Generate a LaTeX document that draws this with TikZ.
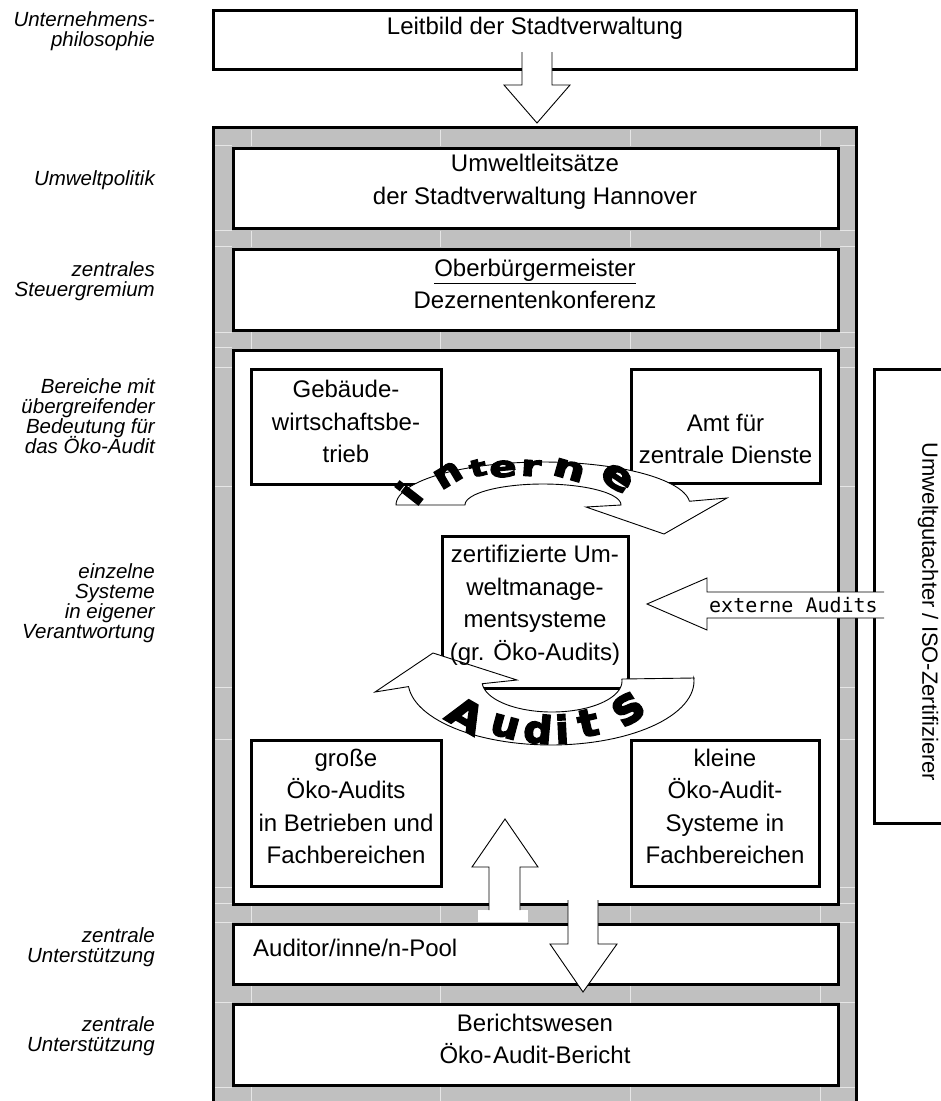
\documentclass[tikz,border=0pt]{standalone}
\usepackage{fontspec}
\setmainfont{Liberation Sans}
\newfontfamily\monofont{DejaVu Sans Mono}
\newfontfamily\heavyfont[FakeBold=4]{DejaVu Sans}
\definecolor{frameg}{HTML}{C0C0C0}
\newcommand\lblfont{\itshape\fontsize{20.5}{20}\selectfont\lineskiplimit=-50pt\lineskip=0pt}
\newcommand\boxfont{\fontsize{24}{32.5}\selectfont\lineskiplimit=-50pt\lineskip=0pt}
\begin{document}
\begin{tikzpicture}[x=1pt,y=-1pt,
  box/.style={draw, line width=3pt, fill=white, inner sep=0pt, rectangle},
  btxt/.style={font=\boxfont, align=center, inner sep=0pt},
  lbl/.style={font=\lblfont, align=right, anchor=east, inner sep=0pt},
  barrow/.style={draw, line width=0.9pt, fill=white, line join=miter},
  faint/.style={draw=white!60!frameg, line width=0.8pt},
  wart/.style={transform shape, inner sep=0pt, text=black}]

\useasboundingbox (0,0) rectangle (941,1101);
\fill[white] (0,0) rectangle (941,1101);

% grey frame
\fill[frameg] (213.5,127.5) rectangle (856,1104);
\draw[line width=3pt] (213.5,1104) -- (213.5,127.5) -- (856,127.5) -- (856,1104);

% faint table lines in the grey frame
\foreach \yy in {145.5,230.5,246.5,332,347.5,367,486,687,739,887,903,922,1002,1087}{
  \draw[faint] (215,\yy) -- (231.5,\yy);
  \draw[faint] (840,\yy) -- (854.5,\yy);
}
\foreach \xx in {251,440,630,820}{
  \foreach \ya/\yb in {129.5/146, 230.5/247, 331.5/348.5, 905.5/922.5, 985.5/1002.5, 1086.5/1101}{
    \draw[faint] (\xx,\ya) -- (\xx,\yb);
  }
}

% boxes
\node[box, minimum width=642.5, minimum height=59.5] (leit) at (534.75,39.75) {};
\node[box, minimum width=604.5, minimum height=80]   (umwelt) at (535.75,188) {};
\node[box, minimum width=604.5, minimum height=81]   (steuer) at (535.75,289.5) {};
\node[box, minimum width=604.5, minimum height=554]  (large) at (535.75,627) {};
\node[box, minimum width=604.5, minimum height=60]   (pool) at (535.75,954) {};
\node[box, minimum width=604.5, minimum height=81]   (bericht) at (535.75,1044.5) {};
\node[box, minimum width=190, minimum height=115] (geb) at (346,426.5) {};
\node[box, minimum width=189, minimum height=114] (amt) at (725.5,426) {};
\node[box, minimum width=186, minimum height=152] (zert) at (535,612) {};
\node[box, minimum width=190, minimum height=146] (gross) at (346,813) {};
\node[box, minimum width=188, minimum height=146] (klein) at (725,813) {};

% bracket on the right
\coordinate (bt) at (945,369);
\coordinate (bb) at (945,823);
\draw[line width=3pt] (bt) -- (874,369) -- (874,823) -- (bb);

% block arrows
\draw[barrow] (522,52) -- (522,85) -- (504,85) -- (537,123) -- (570,85) -- (552,85) -- (552,52);
\fill[white] (478,910) rectangle (528,922.3);
\draw[barrow] (489,910) -- (489,867) -- (472,867) -- (505,819) -- (538,867) -- (520,867) -- (520,910);
\draw[barrow] (568,900) -- (568,944) -- (550,944) -- (583,992) -- (617,944) -- (598,944) -- (598,900);
\draw[barrow] (884,592) -- (707,592) -- (707,578) -- (647,604) -- (707,630) -- (707,618) -- (884,618);

% curved arrows
\draw[barrow] plot[domain=180:5,samples=60] ({543+147*cos(\x)},{505-43*sin(\x)})
  -- (727,498) -- (664,534) -- (586,507) -- (621,505)
  -- plot[domain=0:180,samples=60] ({543+78*cos(\x)},{505-21*sin(\x)}) -- cycle;
\draw[barrow] (622,679) -- (694,678)
  -- plot[domain=3:-175,samples=60] ({551+143*cos(\x)},{681-64*sin(\x)})
  -- (375,692) -- (433,653) -- (517,680)
  -- plot[domain=-175:3,samples=60] ({552+70*cos(\x)},{681-31*sin(\x)}) -- cycle;

% box texts
\node[btxt] (leitT) at (535,28) {Leitbild der Stadtverwaltung};
\node[btxt] (umweltT) at (535,182) {Umweltleits\"atze\\der Stadtverwaltung Hannover};
\node[btxt] (steuerT) at (535,284) {\underline{Oberb\"urgermeister}\\Dezernentenkonferenz};
\node[btxt] (gebT) at (346,421.5) {Geb\"aude-\\wirtschaftsbe-\\trieb};
\node[btxt] (amtT) at (725.5,439) {Amt f\"ur\\zentrale Dienste};
\node[btxt] (zertT) at (535,605.5) {zertifizierte Um-\\weltmanage-\\mentsysteme\\(gr. \"Oko-Audits)};
\node[btxt] (grossT) at (346,806.5) {gro\ss e\\\"Oko-Audits\\in Betrieben und\\Fachbereichen};
\node[btxt] (kleinT) at (725,806.5) {kleine\\\"Oko-Audit-\\Systeme in\\Fachbereichen};
\node[btxt, anchor=west] (poolT) at (253,948) {Auditor/inne/n-Pool};
\node[btxt] (berichtT) at (535,1039) {Berichtswesen\\\"Oko-\kern1.5pt Audit-Bericht};

% word-art letters: letter / x / y / rotation / xscale / yscale
\foreach \ch/\px/\py/\rr/\sx/\sy [count=\k] in
  {i/409/493/52/1.25/1.2, n/448/475/31/1.2/1.1, t/478/468/15/1.1/0.75, e/503/469/5/1.25/0.9,
   r/531/468/-4/1.25/0.9, n/569/470/-16/1.4/1.0, e/617/478/-34/1.45/1.2}{
  \begin{scope}[shift={(\px,\py)}, rotate=\rr, xscale=\sx, yscale=\sy]
    \node[wart, font=\heavyfont\bfseries\fontsize{32}{32}\selectfont] (int\k) at (0,0) {\ch};
  \end{scope}
}
\foreach \ch/\px/\py/\rr/\sx/\sy [count=\k] in
  {A/466/715/-30/1.15/1.0, u/505/727/-15/1.0/0.95, d/538/729/-5/1.0/0.95, i/562/729/3/1.0/0.95,
   t/588/723/13/1.05/0.95, s/628/709/33/1.2/1.25}{
  \begin{scope}[shift={(\px,\py)}, rotate=\rr, xscale=\sx, yscale=\sy]
    \node[wart, font=\heavyfont\bfseries\fontsize{40}{40}\selectfont] (aud\k) at (0,0) {\ch};
  \end{scope}
}

% other texts
\node[font=\monofont\fontsize{20}{20}\selectfont, anchor=west, inner sep=0pt] (ext) at (709,605) {externe Audits};
\node[font=\fontsize{22}{22}\selectfont, rotate=-90, inner sep=0pt] (gut) at (928,612) {Umweltgutachter / ISO-Zertifizierer};

% left labels
\node[lbl] (l1) at (155,31) {Unternehmens-\\philosophie};
\node[lbl] (l2) at (155,180) {Umweltpolitik};
\node[lbl] (l3) at (155,281.5) {zentrales\\Steuergremium};
\node[lbl] (l4) at (155,416) {Bereiche mit\\\"ubergreifender\\Bedeutung f\"ur\\das \"Oko-Audit};
\node[lbl] (l5) at (155,603) {einzelne\\Systeme\\in eigener\\Verantwortung};
\node[lbl] (l6) at (155,947) {zentrale\\Unterst\"utzung};
\node[lbl] (l7) at (155,1036.5) {zentrale\\Unterst\"utzung};
\end{tikzpicture}
\end{document}
